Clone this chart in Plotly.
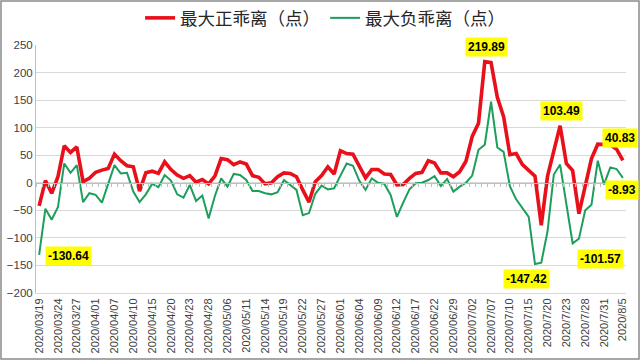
import plotly.graph_objects as go

dates = [
    "2020/03/19", "2020/03/20", "2020/03/23", "2020/03/24", "2020/03/25", "2020/03/26", "2020/03/27", "2020/03/30", "2020/03/31",
    "2020/04/01", "2020/04/02", "2020/04/03", "2020/04/07", "2020/04/08", "2020/04/09", "2020/04/10", "2020/04/13", "2020/04/14",
    "2020/04/15", "2020/04/16", "2020/04/17", "2020/04/20", "2020/04/21", "2020/04/22", "2020/04/23", "2020/04/24", "2020/04/27",
    "2020/04/28", "2020/04/29", "2020/04/30",
    "2020/05/06", "2020/05/07", "2020/05/08", "2020/05/11", "2020/05/12", "2020/05/13", "2020/05/14", "2020/05/15", "2020/05/18",
    "2020/05/19", "2020/05/20", "2020/05/21", "2020/05/22", "2020/05/25", "2020/05/26", "2020/05/27", "2020/05/28", "2020/05/29",
    "2020/06/01", "2020/06/02", "2020/06/03", "2020/06/04", "2020/06/05", "2020/06/08", "2020/06/09", "2020/06/10", "2020/06/11",
    "2020/06/12", "2020/06/15", "2020/06/16", "2020/06/17", "2020/06/18", "2020/06/19", "2020/06/22", "2020/06/23", "2020/06/24",
    "2020/06/29", "2020/06/30",
    "2020/07/01", "2020/07/02", "2020/07/03", "2020/07/06", "2020/07/07", "2020/07/08", "2020/07/09", "2020/07/10", "2020/07/13",
    "2020/07/14", "2020/07/15", "2020/07/16", "2020/07/17", "2020/7/20", "2020/7/21", "2020/7/22", "2020/7/23", "2020/7/24",
    "2020/7/27", "2020/7/28", "2020/7/29", "2020/7/30", "2020/7/31", "2020/8/3", "2020/8/4", "2020/8/5",
]

max_pos_dev = [
    -42, 4, -19, 11, 67, 55, 65, 2, 8, 19,
    23, 26, 52, 40, 31, 29, -15, 18, 21, 17,
    38, 24, 14, 8, 13, 1, 6, -2, 12, 44,
    42, 33, 38, 34, 13, 10, -2, 0, 11, 18,
    17, 11, -13, -35, 2, 13, 29, 16, 58, 53,
    52, 29, 9, 24, 24, 16, 15, -4, -3, 8,
    17, 19, 40, 36, 18, 18, 11, 20, 39, 84,
    108, 219.89, 218, 155, 120, 51, 53, 33, 22, 12,
    -77, 12, 58, 103.49, 35, 22, -56, -6, 44, 70,
    70, 69, 61, 40.83,
]

max_neg_dev = [
    -130.64, -47, -67, -44, 35, 18, 32, -35, -19, -22,
    -36, -3, 32, 17, 18, -16, -35, -21, -2, -8,
    14, 4, -21, -27, -4, -33, -23, -65, -24, 8,
    -7, 16, 14, 5, -15, -15, -19, -21, -17, 5,
    -4, -13, -59, -55, -20, -5, -12, -10, 13, 35,
    31, 4, -13, 8, 0, -2, -22, -62, -36, -12,
    -1, 0, 5, 12, -6, 7, -16, -7, 0, 13,
    60, 69, 147, 64, 56, -6, -30, -45, -62, -147.42,
    -145, -88, 15, 33, -40, -110, -101.57, -50, -40, 40,
    -3, 28, 25, 9,
]

series_names = ["最大正乖离（点）", "最大负乖离（点）"]
label_texts = ["-130.64", "219.89", "103.49", "40.83", "-8.93", "-147.42", "-101.57"]
label_x = [4.7, 71.2, 83.3, 92.5, 92.8, 77.7, 89.5]
label_y = [-132, 246, 130, 81, -14, -175, -138]

Y_MIN, Y_MAX = -200, 250
n = len(dates)

fig = go.Figure()
fig.add_trace(go.Scatter(x=dates, y=max_pos_dev, mode="lines", name=series_names[0],
                         line=dict(color="#E8101A", width=3.6)))
fig.add_trace(go.Scatter(x=dates, y=max_neg_dev, mode="lines", name=series_names[1],
                         line=dict(color="#1E9E5C", width=2)))
# helper trace for the category axis line at zero
fig.add_trace(go.Scatter(x=[], y=[], xaxis="x2", yaxis="y", showlegend=False, hoverinfo="skip"))

for t, x, y in zip(label_texts, label_x, label_y):
    fig.add_annotation(x=(x + 0.5) / n, y=(y - Y_MIN) / (Y_MAX - Y_MIN), xref="paper", yref="paper",
                       xanchor="center", yanchor="middle",
                       text="<b>" + t + "</b>", showarrow=False,
                       bgcolor="#FFFF00", borderpad=2,
                       font=dict(family="Liberation Sans", size=12, color="#000000"))

W, H = 640, 360
ml, mr, mt, mb = 36, 14, 45, 67
pw, ph = W - ml - mr, H - mt - mb

fig.add_shape(type="rect", xref="paper", yref="paper",
              x0=(-ml + 1) / pw, x1=1 + (mr - 1) / pw, y0=(-mb + 1) / ph, y1=1 + (mt - 1) / ph,
              line=dict(color="#8a8a8a", width=1.5), fillcolor="rgba(0,0,0,0)", layer="above")

fig.update_layout(
    width=W, height=H,
    margin=dict(l=ml, r=mr, t=mt, b=mb, pad=0, autoexpand=False),
    paper_bgcolor="white", plot_bgcolor="white",
    showlegend=True,
    legend=dict(orientation="h", x=0.49, xanchor="center", y=1 + 27 / ph, yanchor="middle",
                font=dict(family="Noto Sans CJK SC", size=17.5, color="#262626"),
                itemwidth=30, bgcolor="rgba(0,0,0,0)"),
    xaxis=dict(type="category", categoryorder="array", categoryarray=dates,
               range=[-0.5, n - 0.5],
               tickmode="array", tickvals=dates[::3], ticktext=dates[::3],
               tickangle=-90, tickfont=dict(family="Liberation Sans", size=11, color="#404040"),
               showgrid=False, showline=True, linecolor="#d9d9d9", ticks="", zeroline=False),
    xaxis2=dict(overlaying="x", anchor="free", position=(0 - Y_MIN) / (Y_MAX - Y_MIN), type="linear",
                range=[-0.5, n - 0.5], tickmode="linear", tick0=-0.5, dtick=1,
                ticks="outside", ticklen=3, tickcolor="#bfbfbf", showline=True, linecolor="#bfbfbf",
                showticklabels=False, showgrid=False, zeroline=False),
    yaxis=dict(range=[Y_MIN, Y_MAX], tickmode="linear", tick0=0, dtick=50,
               gridcolor="#d9d9d9", showline=True, linecolor="#bfbfbf", zeroline=False,
               ticks="", tickfont=dict(family="Liberation Sans", size=11.5, color="#404040")),
)

fig.write_html("out.html", config={"displayModeBar": False},
               post_script="document.body.style.margin='0px';")
